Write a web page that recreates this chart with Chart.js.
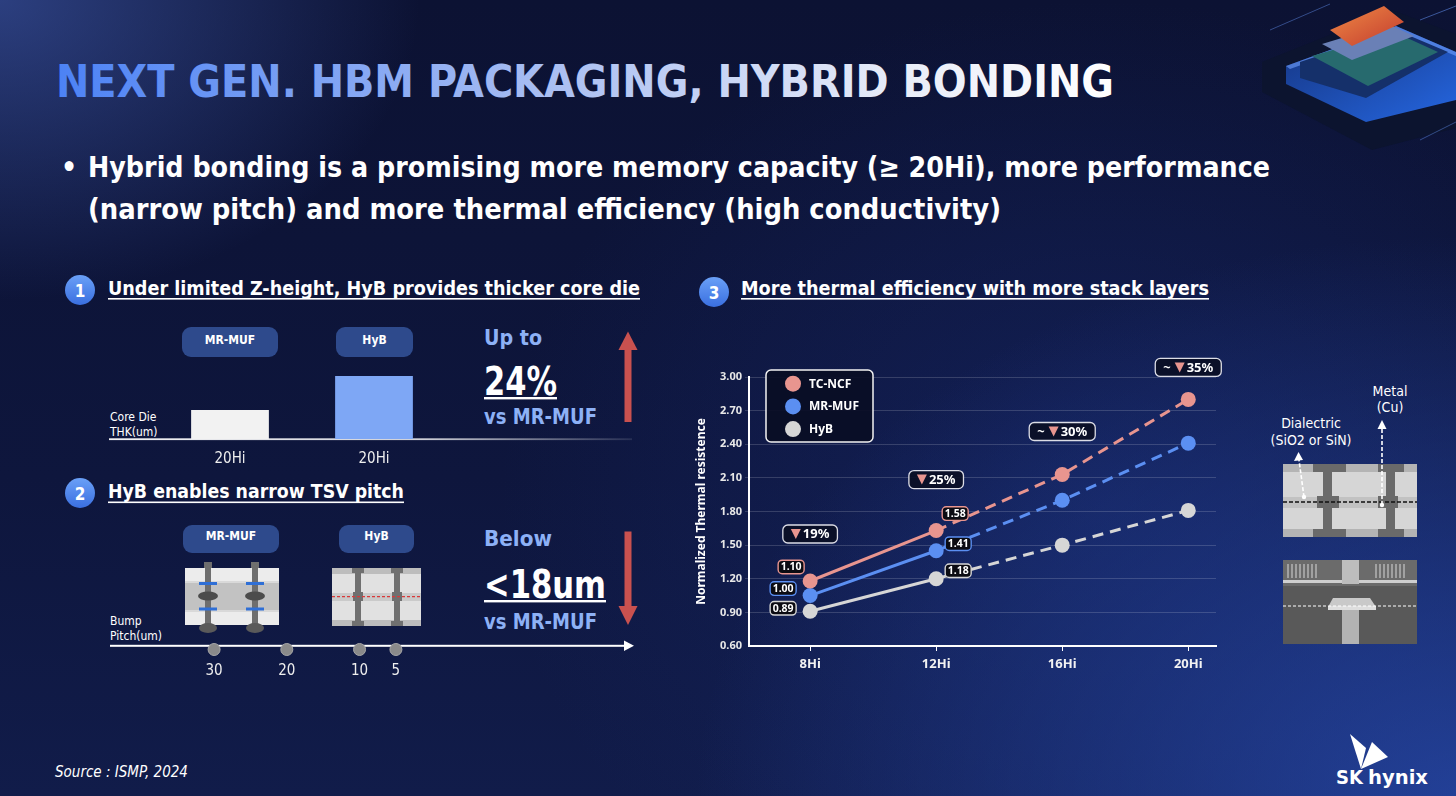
<!DOCTYPE html>
<html>
<head>
<meta charset="utf-8">
<script src="https://cdn.jsdelivr.net/npm/chart.js@4.4.1/dist/chart.umd.min.js"></script>
<style>
  html, body { margin: 0; padding: 0; }
  body {
    width: 1456px; height: 796px; overflow: hidden; position: relative;
    background:
      radial-gradient(ellipse 420px 300px at 0px 0px, rgba(70,100,190,0.55), rgba(70,100,190,0) 100%),
      radial-gradient(ellipse 760px 560px at 1456px 796px, rgba(40,75,175,0.75), rgba(40,75,175,0) 100%),
      radial-gradient(ellipse 600px 500px at 1100px 500px, rgba(25,45,120,0.45), rgba(25,45,120,0) 100%),
      linear-gradient(180deg, #0c1233 0%, #0e163d 60%, #111c4a 100%);
    font-family: "DejaVu Sans Condensed", "DejaVu Sans", sans-serif;
  }
  #decor { position: absolute; left: 0; top: 0; z-index: 0; }
  .box { position: absolute; z-index: 1; }
</style>
</head>
<body>

<svg id="decor" width="1456" height="796" xmlns="http://www.w3.org/2000/svg">
  <defs>
    <linearGradient id="titleGrad" gradientUnits="userSpaceOnUse" x1="56" y1="0" x2="1114" y2="0">
      <stop offset="0" stop-color="#4c82f5"/>
      <stop offset="0.45" stop-color="#a6bcf2"/>
      <stop offset="0.8" stop-color="#e9edf8"/>
      <stop offset="1" stop-color="#ffffff"/>
    </linearGradient>
    <linearGradient id="baseGrad" x1="0" y1="0" x2="1" y2="0">
      <stop offset="0" stop-color="#ffffff" stop-opacity="0.95"/>
      <stop offset="0.6" stop-color="#ffffff" stop-opacity="0.8"/>
      <stop offset="1" stop-color="#ffffff" stop-opacity="0.1"/>
    </linearGradient>
    <linearGradient id="numGrad" x1="0" y1="0" x2="0" y2="1">
      <stop offset="0" stop-color="#6aa0f7"/>
      <stop offset="1" stop-color="#3a6fe0"/>
    </linearGradient>
    <linearGradient id="chipTop" x1="0" y1="0" x2="1" y2="1">
      <stop offset="0" stop-color="#ef8a45"/>
      <stop offset="1" stop-color="#c23a2e"/>
    </linearGradient>
    <linearGradient id="chipGlow" x1="0" y1="0" x2="1" y2="1">
      <stop offset="0" stop-color="#15337e"/>
      <stop offset="1" stop-color="#2566e0"/>
    </linearGradient>
  </defs>

  <!-- chip render, top right -->
  <g>
    <polygon points="1262,62 1392,10 1456,34 1456,128 1372,150 1262,92" fill="#0c142f"/>
    <polygon points="1286,66 1396,26 1456,52 1456,100 1366,122 1286,84" fill="url(#chipGlow)"/>
    <polygon points="1286,66 1396,26 1456,52 1456,56 1396,31 1290,69" fill="#6fa0ff" opacity="0.6"/>
    <polygon points="1300,62 1396,30 1448,52 1366,98 1300,78" fill="#15306a"/>
    <polygon points="1312,56 1394,32 1438,52 1368,86" fill="#276a6e"/>
    <polygon points="1322,44 1388,24 1414,36 1352,60" fill="#6a80b6"/>
    <polygon points="1330,30 1384,6 1404,22 1352,46" fill="url(#chipTop)"/>
    <line x1="1270" y1="30" x2="1330" y2="4" stroke="#5c86e0" stroke-opacity="0.5" stroke-width="1"/>
    <line x1="1420" y1="20" x2="1456" y2="6" stroke="#5c86e0" stroke-opacity="0.6" stroke-width="1"/>
    <line x1="1420" y1="140" x2="1456" y2="122" stroke="#5c86e0" stroke-opacity="0.5" stroke-width="1"/>
  </g>

  <!-- title and bullet -->
  <text x="56" y="97" font-size="44" font-weight="bold" fill="url(#titleGrad)" textLength="1058" lengthAdjust="spacingAndGlyphs">NEXT GEN. HBM PACKAGING, HYBRID BONDING</text>
  <text x="61" y="177" font-size="28" font-weight="bold" fill="#ffffff">•</text>
  <text x="88" y="177" font-size="29" font-weight="bold" fill="#ffffff" textLength="1182" lengthAdjust="spacingAndGlyphs">Hybrid bonding is a promising more memory capacity (≥ 20Hi), more performance</text>
  <text x="88" y="219" font-size="29" font-weight="bold" fill="#ffffff" textLength="913" lengthAdjust="spacingAndGlyphs">(narrow pitch) and more thermal efficiency (high conductivity)</text>

  <!-- section headings -->
  <circle cx="80" cy="290" r="15" fill="url(#numGrad)"/>
  <text x="80" y="296.5" font-size="17" font-weight="bold" fill="#fff" text-anchor="middle">1</text>
  <text x="108" y="295" font-size="20" font-weight="bold" fill="#fff" textLength="532" lengthAdjust="spacingAndGlyphs">Under limited Z-height, HyB provides thicker core die</text>
  <rect x="108" y="298" width="532" height="1.6" fill="#fff"/>

  <circle cx="80" cy="493" r="15" fill="url(#numGrad)"/>
  <text x="80" y="499.5" font-size="17" font-weight="bold" fill="#fff" text-anchor="middle">2</text>
  <text x="108" y="498" font-size="20" font-weight="bold" fill="#fff" textLength="296" lengthAdjust="spacingAndGlyphs">HyB enables narrow TSV pitch</text>
  <rect x="108" y="501.5" width="296" height="1.6" fill="#fff"/>

  <circle cx="714" cy="292" r="15" fill="url(#numGrad)"/>
  <text x="714" y="298.5" font-size="17" font-weight="bold" fill="#fff" text-anchor="middle">3</text>
  <text x="741" y="295" font-size="20" font-weight="bold" fill="#fff" textLength="468" lengthAdjust="spacingAndGlyphs">More thermal efficiency with more stack layers</text>
  <rect x="741" y="298" width="468" height="1.6" fill="#fff"/>

  <!-- section 1 -->
  <rect x="182" y="327" width="96" height="30" rx="9" fill="#2e4a8c"/>
  <text x="230" y="344" font-size="12" font-weight="bold" fill="#fff" text-anchor="middle">MR-MUF</text>
  <rect x="336" y="327" width="77" height="30" rx="9" fill="#2e4a8c"/>
  <text x="374.5" y="344" font-size="12" font-weight="bold" fill="#fff" text-anchor="middle">HyB</text>
  <rect x="109" y="438.3" width="523" height="1.8" fill="url(#baseGrad)"/>
  <text x="110" y="421" font-size="12" fill="#fff">Core Die</text>
  <text x="110" y="436" font-size="12" fill="#fff">THK(um)</text>
  <text x="484" y="345" font-size="22" font-weight="bold" fill="#8db1f6" textLength="58" lengthAdjust="spacingAndGlyphs">Up to</text>
  <text x="484" y="395" font-size="39" font-weight="bold" fill="#fff" textLength="73" lengthAdjust="spacingAndGlyphs">24%</text>
  <rect x="484" y="397" width="73" height="2.4" fill="#fff"/>
  <text x="484" y="424" font-size="21" font-weight="bold" fill="#8db1f6" textLength="113" lengthAdjust="spacingAndGlyphs">vs MR-MUF</text>
  <rect x="624.5" y="348" width="7" height="74" fill="#c9514f"/>
  <polygon points="618.5,350 628,331.5 637.5,350" fill="#c9514f"/>

  <!-- section 2 -->
  <rect x="183" y="525" width="96" height="28" rx="9" fill="#2e4a8c"/>
  <text x="231" y="539.5" font-size="12" font-weight="bold" fill="#fff" text-anchor="middle">MR-MUF</text>
  <rect x="339" y="525" width="75" height="28" rx="9" fill="#2e4a8c"/>
  <text x="376.5" y="539.5" font-size="12" font-weight="bold" fill="#fff" text-anchor="middle">HyB</text>

  <!-- MR-MUF stack sketch -->
  <rect x="185" y="568" width="94" height="57" fill="#d9d9d9"/>
  <rect x="185" y="568" width="94" height="13" fill="#ececec"/>
  <rect x="185" y="612" width="94" height="13" fill="#ececec"/>
  <rect x="185" y="583" width="94" height="27" fill="#c2c2c2"/>
  <g fill="#6e6e6e">
    <rect x="205" y="562" width="6" height="68"/><rect x="252" y="562" width="6" height="68"/>
    <rect x="204" y="562" width="8" height="6"/><rect x="251" y="562" width="8" height="6"/>
  </g>
  <g fill="#2f6fd6">
    <rect x="199" y="582" width="18" height="3"/><rect x="246" y="582" width="18" height="3"/>
    <rect x="199" y="607.5" width="18" height="3"/><rect x="246" y="607.5" width="18" height="3"/>
  </g>
  <ellipse cx="208" cy="596" rx="10" ry="4.6" fill="#4c4c4c"/>
  <ellipse cx="255" cy="596" rx="10" ry="4.6" fill="#4c4c4c"/>
  <ellipse cx="208" cy="628" rx="9" ry="5" fill="#5a5a5a"/>
  <ellipse cx="255" cy="628" rx="9" ry="5" fill="#5a5a5a"/>

  <!-- HyB stack sketch -->
  <rect x="332" y="568" width="89" height="58" fill="#e1e1e1"/>
  <rect x="332" y="568" width="89" height="6" fill="#bdbdbd"/>
  <rect x="332" y="620" width="89" height="6" fill="#bdbdbd"/>
  <rect x="332" y="593" width="89" height="8" fill="#cacaca"/>
  <g fill="#707070">
    <rect x="355" y="568" width="6" height="58"/><rect x="394" y="568" width="6" height="58"/>
    <rect x="352" y="568" width="12" height="5"/><rect x="391" y="568" width="12" height="5"/>
    <rect x="352" y="621" width="12" height="5"/><rect x="391" y="621" width="12" height="5"/>
    <rect x="353" y="592" width="10" height="9"/><rect x="392" y="592" width="10" height="9"/>
  </g>
  <line x1="332" y1="596.7" x2="421" y2="596.7" stroke="#d93a3a" stroke-width="1.3" stroke-dasharray="3,2"/>

  <text x="110" y="625" font-size="12" fill="#fff">Bump</text>
  <text x="110" y="640" font-size="12" fill="#fff">Pitch(um)</text>
  <rect x="110" y="644.8" width="516" height="2" fill="#fff"/>
  <polygon points="624,640.5 634,645.8 624,651" fill="#fff"/>

  <text x="484" y="546" font-size="22" font-weight="bold" fill="#8db1f6" textLength="68" lengthAdjust="spacingAndGlyphs">Below</text>
  <text x="484" y="598" font-size="39" font-weight="bold" fill="#fff" textLength="122" lengthAdjust="spacingAndGlyphs">&lt;18um</text>
  <rect x="484" y="600" width="122" height="2.4" fill="#fff"/>
  <text x="484" y="629" font-size="21" font-weight="bold" fill="#8db1f6" textLength="113" lengthAdjust="spacingAndGlyphs">vs MR-MUF</text>
  <rect x="624.5" y="531.5" width="7" height="76" fill="#c9514f"/>
  <polygon points="618.5,606 628,625 637.5,606" fill="#c9514f"/>

  <!-- right side cross-section -->
  <text x="1390" y="396" font-size="14" fill="#fff" text-anchor="middle">Metal</text>
  <text x="1390" y="412" font-size="14" fill="#fff" text-anchor="middle">(Cu)</text>
  <text x="1311" y="428" font-size="14" fill="#fff" text-anchor="middle">Dialectric</text>
  <text x="1311" y="445" font-size="14" fill="#fff" text-anchor="middle">(SiO2 or SiN)</text>

  <rect x="1283" y="464" width="134" height="73" fill="#d6d6d6"/>
  <rect x="1283" y="464" width="134" height="8" fill="#b4b4b4"/>
  <rect x="1283" y="529" width="134" height="8" fill="#b4b4b4"/>
  <rect x="1283" y="497" width="134" height="11" fill="#c2c2c2"/>
  <g fill="#6a6a6a">
    <rect x="1313" y="464" width="33" height="8"/><rect x="1378" y="464" width="26" height="8"/>
    <rect x="1323" y="464" width="9" height="73"/><rect x="1386" y="464" width="9" height="73"/>
    <rect x="1317" y="496" width="22" height="12"/><rect x="1378" y="496" width="20" height="12"/>
    <rect x="1313" y="529" width="33" height="8"/><rect x="1378" y="529" width="26" height="8"/>
  </g>
  <line x1="1283" y1="502" x2="1417" y2="502" stroke="#111" stroke-width="1.3" stroke-dasharray="4,2"/>
  <line x1="1304" y1="497" x2="1299" y2="460" stroke="#fff" stroke-width="1.6" stroke-dasharray="4,2"/>
  <polygon points="1294,461 1298.5,452 1303,460" fill="#fff"/>
  <circle cx="1304" cy="497" r="2.2" fill="#fff"/>
  <line x1="1382" y1="505" x2="1382" y2="428" stroke="#fff" stroke-width="1.6" stroke-dasharray="4,2"/>
  <polygon points="1377.5,429 1382,420 1386.5,429" fill="#fff"/>
  <circle cx="1382" cy="505" r="2.2" fill="#fff"/>

  <!-- SEM-style photo -->
  <rect x="1283" y="560" width="134" height="84" fill="#595959"/>
  <rect x="1283" y="560" width="134" height="26" fill="#6b6b6b"/>
  <g stroke="#d8d8d8" stroke-width="1">
    <line x1="1288" y1="564" x2="1288" y2="578"/><line x1="1292" y1="564" x2="1292" y2="578"/>
    <line x1="1296" y1="564" x2="1296" y2="578"/><line x1="1300" y1="564" x2="1300" y2="578"/>
    <line x1="1304" y1="564" x2="1304" y2="578"/><line x1="1308" y1="564" x2="1308" y2="578"/>
    <line x1="1312" y1="564" x2="1312" y2="578"/><line x1="1316" y1="564" x2="1316" y2="578"/>
    <line x1="1376" y1="564" x2="1376" y2="578"/><line x1="1380" y1="564" x2="1380" y2="578"/>
    <line x1="1384" y1="564" x2="1384" y2="578"/><line x1="1388" y1="564" x2="1388" y2="578"/>
    <line x1="1392" y1="564" x2="1392" y2="578"/><line x1="1396" y1="564" x2="1396" y2="578"/>
    <line x1="1400" y1="564" x2="1400" y2="578"/><line x1="1404" y1="564" x2="1404" y2="578"/>
  </g>
  <rect x="1283" y="580" width="134" height="3" fill="#cfcfcf"/>
  <rect x="1342" y="560" width="17" height="24" fill="#bdbdbd"/>
  <polygon points="1333,598 1370,598 1376,607 1328,607" fill="#c9c9c9"/>
  <rect x="1328" y="606" width="48" height="4" fill="#dedede"/>
  <line x1="1283" y1="606" x2="1417" y2="606" stroke="#fff" stroke-width="1" stroke-dasharray="3,2"/>
  <rect x="1342" y="610" width="17" height="34" fill="#b3b3b3"/>

  <!-- footer -->
  <text x="55" y="777" font-size="15" font-style="italic" fill="#fff">Source : ISMP, 2024</text>
  <polygon points="1350,734 1366,748 1361,769" fill="#fff"/>
  <polygon points="1361,769 1372,742 1388,757" fill="#fff"/>
  <text x="1336" y="784" font-size="20" font-weight="bold" fill="#fff">SK</text>
  <text x="1368" y="784" font-size="20" font-weight="bold" fill="#fff" textLength="60" lengthAdjust="spacingAndGlyphs">hynix</text>
</svg>

<div class="box" style="left:158px; top:360px; width:288px; height:105px;"><canvas id="dieChart"></canvas></div>
<div class="box" style="left:110px; top:640px; width:522px; height:37px;"><canvas id="pitchChart"></canvas></div>
<div class="box" style="left:690px; top:350px; width:540px; height:340px;"><canvas id="thermalChart"></canvas></div>

<script>
// thermal chart data
const stackLabels = ['8Hi', '12Hi', '16Hi', '20Hi'];
const tcNcf = [1.18, 1.63, 2.13, 2.80];
const mrMuf = [1.05, 1.45, 1.90, 2.41];
const hyb = [0.91, 1.20, 1.50, 1.81];
const tcNcfTags = ['1.10', '1.58'];
const mrMufTags = ['1.00', '1.41'];
const hybTags = ['0.89', '1.18'];
const reduction = ['▼19%', '▼25%', '~▼30%', '~▼35%'];
const yTicks = [0.60, 0.90, 1.20, 1.50, 1.80, 2.10, 2.40, 2.70, 3.00];

// core die thickness (px-relative)
const dieLabels = ['20Hi', '20Hi'];
const dieThk = [29, 63];

// bump pitch number line
const pitchValues = [30, 20, 10, 5];

const PINK = '#e8958f';
const BLUE = '#5b8ff2';
const GREY = '#d6d6d6';
const chartFont = "'Noto Sans', 'DejaVu Sans', sans-serif";

function toPoints(arr) {
    return arr.map((v, i) => ({ x: i, y: v }));
}

function dashAfterFirst(ctx) {
    return ctx.p0DataIndex >= 1 ? [11, 7] : undefined;
}

// legend box, value tags and the reduction callouts
const thermalDecor = {
    id: 'thermalDecor',
    afterDatasetsDraw(chart) {
        const ctx = chart.ctx;
        const area = chart.chartArea;
        const sets = chart.data.datasets;

        // legend
        const lx = area.left + 17, ly = area.top - 7;
        ctx.save();
        ctx.beginPath();
        ctx.roundRect(lx, ly, 107, 72, 5);
        ctx.fillStyle = 'rgba(9,13,36,0.92)';
        ctx.fill();
        ctx.lineWidth = 1.5;
        ctx.strokeStyle = '#f2f2f2';
        ctx.stroke();
        ctx.font = 'bold 12px ' + chartFont;
        ctx.textBaseline = 'middle';
        sets.forEach(function (ds, i) {
            const ry = ly + 13.7 + i * 22.7;
            ctx.beginPath();
            ctx.arc(lx + 27, ry, 8, 0, Math.PI * 2);
            ctx.fillStyle = ds.borderColor;
            ctx.fill();
            ctx.fillStyle = '#ffffff';
            ctx.textAlign = 'left';
            ctx.fillText(ds.label, lx + 43, ry + 0.5);
        });

        // value tags at 8Hi and 12Hi
        const tagOffsets = [
            [[-19, -14], [19, -17]],
            [[-27, -7], [22, -7]],
            [[-27, -3], [22, -8]]
        ];
        ctx.font = 'bold 10.5px ' + chartFont;
        ctx.textAlign = 'center';
        sets.forEach(function (ds, di) {
            const meta = chart.getDatasetMeta(di);
            ds.tags.forEach(function (t, i) {
                const p = meta.data[i];
                const cx = p.x + tagOffsets[di][i][0];
                const cy = p.y + tagOffsets[di][i][1];
                ctx.beginPath();
                ctx.roundRect(cx - 13, cy - 6.8, 26, 13.6, 4);
                ctx.fillStyle = '#0b0b12';
                ctx.fill();
                ctx.lineWidth = 1.4;
                ctx.strokeStyle = ds.borderColor;
                ctx.stroke();
                ctx.fillStyle = '#ffffff';
                ctx.fillText(t, cx, cy + 0.5);
            });
        });

        // reduction callouts above TC-NCF
        const lift = [47, 51, 43, 32];
        const top = chart.getDatasetMeta(0);
        ctx.font = 'bold 13px ' + chartFont;
        ctx.textAlign = 'left';
        reduction.forEach(function (txt, i) {
            const p = top.data[i];
            const cy = p.y - lift[i];
            const parts = txt.split('▼');
            const triW = 10;
            const w0 = parts[0] ? ctx.measureText(parts[0]).width + 4 : 0;
            const w1 = ctx.measureText(parts[1]).width;
            const contentW = w0 + triW + 2 + w1;
            const boxW = contentW + 16;
            const bx = p.x - boxW / 2;
            ctx.beginPath();
            ctx.roundRect(bx, cy - 9, boxW, 18, 5);
            ctx.fillStyle = 'rgba(10,14,36,0.9)';
            ctx.fill();
            ctx.lineWidth = 1.3;
            ctx.strokeStyle = '#dcdde6';
            ctx.stroke();
            let x = bx + 8;
            ctx.fillStyle = '#ffffff';
            if (parts[0]) {
                ctx.fillText(parts[0], x, cy + 0.5);
                x += w0;
            }
            ctx.beginPath();
            ctx.moveTo(x, cy - 5);
            ctx.lineTo(x + triW, cy - 5);
            ctx.lineTo(x + triW / 2, cy + 5);
            ctx.closePath();
            ctx.fillStyle = PINK;
            ctx.fill();
            x += triW + 2;
            ctx.fillStyle = '#ffffff';
            ctx.fillText(parts[1], x, cy + 0.5);
        });
        ctx.restore();
    }
};

new Chart(document.getElementById('thermalChart'), {
    type: 'line',
    data: {
        datasets: [
            { label: 'TC-NCF', data: toPoints(tcNcf), tags: tcNcfTags, borderColor: PINK, backgroundColor: PINK },
            { label: 'MR-MUF', data: toPoints(mrMuf), tags: mrMufTags, borderColor: BLUE, backgroundColor: BLUE },
            { label: 'HyB', data: toPoints(hyb), tags: hybTags, borderColor: GREY, backgroundColor: GREY }
        ].map(function (ds) {
            return Object.assign(ds, {
                borderWidth: 3,
                pointRadius: 7.5,
                pointHoverRadius: 7.5,
                pointBorderWidth: 0,
                pointBackgroundColor: ds.borderColor,
                segment: { borderDash: dashAfterFirst },
                clip: false
            });
        })
    },
    options: {
        responsive: true,
        maintainAspectRatio: false,
        animation: false,
        layout: { padding: { top: 27, right: 14, left: 0, bottom: 0 } },
        plugins: { legend: { display: false }, tooltip: { enabled: false } },
        scales: {
            x: {
                type: 'linear',
                min: -0.485,
                max: 3.22,
                afterBuildTicks: function (scale) {
                    scale.ticks = stackLabels.map((c, i) => ({ value: i }));
                },
                afterFit: function (scale) { scale.height = 44; },
                ticks: {
                    color: '#f2f2f2',
                    font: { family: chartFont, size: 13, weight: 'bold' },
                    padding: 5,
                    callback: function (v) { return stackLabels[v]; }
                },
                grid: { drawOnChartArea: false, drawTicks: true, tickLength: 5, color: '#ffffff' },
                border: { color: '#ffffff', width: 2 }
            },
            y: {
                min: 0.6,
                max: 3.0,
                afterBuildTicks: function (scale) {
                    scale.ticks = yTicks.map(v => ({ value: v }));
                },
                afterFit: function (scale) { scale.width = 59; },
                ticks: {
                    color: '#e8e8e8',
                    font: { family: chartFont, size: 11, weight: 'bold' },
                    padding: 3,
                    callback: function (v) { return Number(v).toFixed(2); }
                },
                grid: {
                    color: function (c) { return c.tick && c.tick.value <= 0.6 ? 'rgba(0,0,0,0)' : 'rgba(255,255,255,0.16)'; },
                    tickLength: 4
                },
                border: { color: '#ffffff', width: 2 },
                title: {
                    display: true,
                    text: 'Normalized Thermal resistence',
                    color: '#ffffff',
                    font: { family: chartFont, size: 12, weight: 'bold' },
                    padding: { top: 4, bottom: 0 }
                }
            }
        }
    },
    plugins: [thermalDecor]
});

new Chart(document.getElementById('dieChart'), {
    type: 'bar',
    data: {
        labels: dieLabels,
        datasets: [{
            data: dieThk,
            backgroundColor: ['#f2f2f2', '#7ea7f5'],
            barPercentage: 0.54,
            categoryPercentage: 1.0
        }]
    },
    options: {
        responsive: true,
        maintainAspectRatio: false,
        animation: false,
        layout: { padding: 0 },
        plugins: { legend: { display: false }, tooltip: { enabled: false } },
        scales: {
            x: {
                grid: { display: false },
                border: { display: false },
                afterFit: function (scale) { scale.height = 26; },
                ticks: { color: '#eeeeee', padding: 3, font: { family: "'DejaVu Sans Condensed', sans-serif", size: 15 } }
            },
            y: { display: false, min: 0, max: 79 }
        }
    }
});

new Chart(document.getElementById('pitchChart'), {
    type: 'scatter',
    data: {
        datasets: [{
            data: pitchValues.map(v => ({ x: v, y: 0 })),
            pointRadius: 6,
            pointBackgroundColor: '#8a8a8a',
            pointBorderColor: '#a8a8a8',
            pointBorderWidth: 1,
            clip: false
        }]
    },
    options: {
        responsive: true,
        maintainAspectRatio: false,
        animation: false,
        layout: { padding: 0 },
        plugins: { legend: { display: false }, tooltip: { enabled: false } },
        scales: {
            x: {
                type: 'linear',
                reverse: true,
                min: -26.5,
                max: 43.35,
                afterBuildTicks: function (scale) {
                    scale.ticks = pitchValues.map(v => ({ value: v }));
                },
                afterFit: function (scale) { scale.height = 25; },
                grid: { display: false },
                border: { display: false },
                ticks: { color: '#eeeeee', padding: 2, font: { family: "'DejaVu Sans Condensed', sans-serif", size: 15 } }
            },
            y: { display: false, min: -1, max: 1 }
        }
    }
});
</script>
</body>
</html>
